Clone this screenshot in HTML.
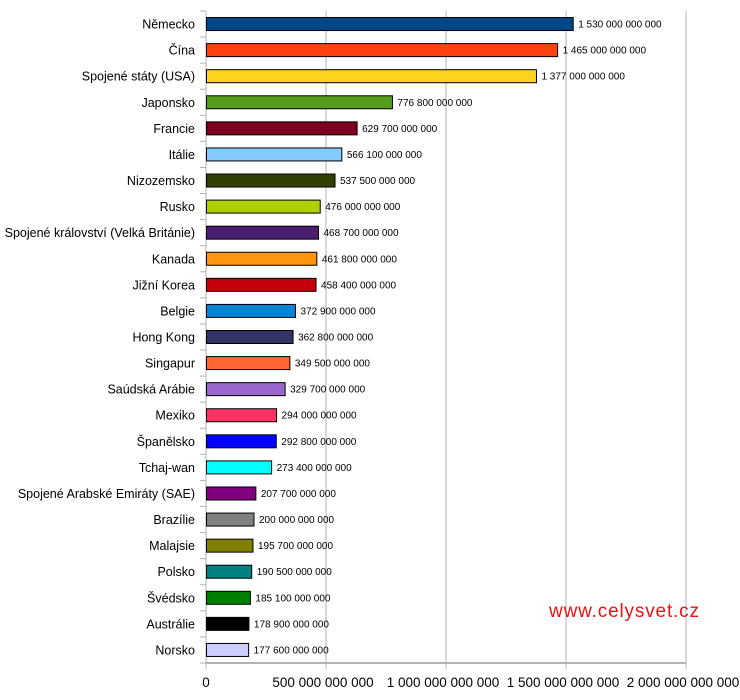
<!DOCTYPE html>
<html><head><meta charset="utf-8"><style>
body{margin:0;background:#fff;}
svg{display:block;font-family:"Liberation Sans",Arial,sans-serif;}
</style></head><body>
<svg id="chart" width="740" height="700" viewBox="0 0 740 700"></svg>
<script>
const categories=["Německo","Čína","Spojené státy (USA)","Japonsko","Francie","Itálie","Nizozemsko","Rusko","Spojené království (Velká Británie)","Kanada","Jižní Korea","Belgie","Hong Kong","Singapur","Saúdská Arábie","Mexiko","Španělsko","Tchaj-wan","Spojené Arabské Emiráty (SAE)","Brazílie","Malajsie","Polsko","Švédsko","Austrálie","Norsko"];
const values=[1530e9,1465e9,1377e9,776.8e9,629.7e9,566.1e9,537.5e9,476e9,468.7e9,461.8e9,458.4e9,372.9e9,362.8e9,349.5e9,329.7e9,294e9,292.8e9,273.4e9,207.7e9,200e9,195.7e9,190.5e9,185.1e9,178.9e9,177.6e9];
const barColors=["#004586","#ff420e","#ffd320","#579d1c","#7e0021","#83caff","#314004","#aecf00","#4b1f6f","#ff950e","#c5000b","#0084d1","#333366","#ff6633","#9966cc","#ff3366","#0000ff","#00ffff","#800080","#808080","#808000","#008080","#008000","#000000","#ccccff"];
const tickValues=[0,500e9,1000e9,1500e9,2000e9];
const NS="http://www.w3.org/2000/svg";
const svg=document.getElementById('chart');
const X0=206,X1=686,MAX=2000e9,TOP=11,BOT=663;
const pitch=(BOT-TOP)/categories.length;
const xs=v=>X0+v/MAX*(X1-X0);
const yc=i=>TOP+pitch*(i+0.5);
function fmt(v){return Math.round(v).toString().replace(/\B(?=(\d{3})+(?!\d))/g,' ');}
function mk(t,a){const e=document.createElementNS(NS,t);for(const k in a)e.setAttribute(k,a[k]);svg.appendChild(e);return e;}
tickValues.forEach((t,i)=>{
  const x=xs(t);
  if(i>0){const g=mk('line',{x1:x,x2:x,y1:TOP,y2:BOT+6,stroke:'#b3b3b3','stroke-width':1});
  
  }
  else{const g=mk('line',{x1:x,x2:x,y1:BOT,y2:BOT+6,stroke:'#b3b3b3'});
  
  }
  const tx=mk('text',{x:i==0?x:x-3,y:BOT+24,'font-size':13.5,'text-anchor':'middle',fill:'#000'});
  tx.textContent=fmt(t);
  
  
});
for(let i=0;i<=categories.length;i++){
  const y=TOP+pitch*i;
  const l=mk('line',{x1:X0-6,x2:X0,y1:y,y2:y,stroke:'#b3b3b3'});
  
  
}
const ax=mk('line',{x1:X0,x2:X0,y1:TOP,y2:BOT,stroke:'#b3b3b3','stroke-width':1});


const bx=mk('line',{x1:X0,x2:X1,y1:BOT,y2:BOT,stroke:'#b3b3b3','stroke-width':2});


categories.forEach((c,i)=>{
  const y=yc(i),x=xs(values[i]);
  const r=mk('rect',{x:X0+0.5,y:y-6.5,width:x-X0-0.5,height:13,fill:barColors[i],stroke:'#000','stroke-width':1});
  
  
  const t=mk('text',{x:195,y:y+4.5,'font-size':12.5,'text-anchor':'end',fill:'#000'});
  t.textContent=c;
  
  
  const v=mk('text',{x:x+5,y:y+3.5,'font-size':10,fill:'#000'});
  v.textContent=fmt(values[i]);
  
  
});
const w=mk('text',{x:549,y:617,'font-size':19,fill:'#ee1111',textLength:150,lengthAdjust:'spacing'});
w.textContent='www.celysvet.cz';


</script>
</body></html>
